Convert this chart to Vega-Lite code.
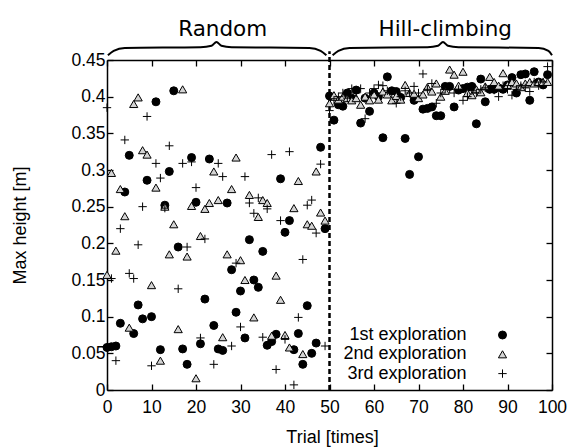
{
  "$schema": "https://vega.github.io/schema/vega-lite/v6.json",
  "width": 445,
  "height": 330,
  "autosize": "none",
  "padding": {"left": 107, "top": 60, "right": 22, "bottom": 57},
  "background": "white",
  "config": {
    "font": "Liberation Sans",
    "view": {"stroke": null},
    "axis": {
      "grid": false,
      "domainColor": "#000",
      "domainWidth": 1.5,
      "tickColor": "#000",
      "tickWidth": 1.3,
      "tickSize": -6,
      "labelColor": "#000",
      "labelFontSize": 17.5,
      "titleColor": "#000",
      "titleFontSize": 18,
      "titleFontWeight": "normal"
    },
    "legend": {
      "labelFontSize": 18,
      "labelColor": "#000"
    }
  },
  "datasets": {
    "pts": [
      {"t":0,"h":0.058,"s":"1st exploration"},{"t":1,"h":0.059,"s":"1st exploration"},{"t":2,"h":0.060,"s":"1st exploration"},{"t":3,"h":0.091,"s":"1st exploration"},{"t":4,"h":0.270,"s":"1st exploration"},{"t":5,"h":0.320,"s":"1st exploration"},{"t":6,"h":0.077,"s":"1st exploration"},{"t":7,"h":0.116,"s":"1st exploration"},{"t":8,"h":0.097,"s":"1st exploration"},{"t":9,"h":0.286,"s":"1st exploration"},
      {"t":10,"h":0.100,"s":"1st exploration"},{"t":11,"h":0.393,"s":"1st exploration"},{"t":12,"h":0.055,"s":"1st exploration"},{"t":13,"h":0.252,"s":"1st exploration"},{"t":14,"h":0.298,"s":"1st exploration"},{"t":15,"h":0.408,"s":"1st exploration"},{"t":16,"h":0.195,"s":"1st exploration"},{"t":17,"h":0.056,"s":"1st exploration"},{"t":18,"h":0.035,"s":"1st exploration"},{"t":19,"h":0.317,"s":"1st exploration"},
      {"t":20,"h":0.256,"s":"1st exploration"},{"t":21,"h":0.063,"s":"1st exploration"},{"t":22,"h":0.124,"s":"1st exploration"},{"t":23,"h":0.315,"s":"1st exploration"},{"t":24,"h":0.088,"s":"1st exploration"},{"t":25,"h":0.056,"s":"1st exploration"},{"t":26,"h":0.054,"s":"1st exploration"},{"t":27,"h":0.255,"s":"1st exploration"},{"t":28,"h":0.164,"s":"1st exploration"},{"t":29,"h":0.106,"s":"1st exploration"},
      {"t":30,"h":0.135,"s":"1st exploration"},{"t":31,"h":0.071,"s":"1st exploration"},{"t":32,"h":0.205,"s":"1st exploration"},{"t":33,"h":0.150,"s":"1st exploration"},{"t":34,"h":0.140,"s":"1st exploration"},{"t":35,"h":0.189,"s":"1st exploration"},{"t":36,"h":0.061,"s":"1st exploration"},{"t":37,"h":0.066,"s":"1st exploration"},{"t":38,"h":0.076,"s":"1st exploration"},{"t":39,"h":0.288,"s":"1st exploration"},
      {"t":40,"h":0.215,"s":"1st exploration"},{"t":41,"h":0.231,"s":"1st exploration"},{"t":42,"h":0.055,"s":"1st exploration"},{"t":43,"h":0.077,"s":"1st exploration"},{"t":44,"h":0.035,"s":"1st exploration"},{"t":45,"h":0.115,"s":"1st exploration"},{"t":46,"h":0.050,"s":"1st exploration"},{"t":47,"h":0.064,"s":"1st exploration"},{"t":48,"h":0.331,"s":"1st exploration"},{"t":49,"h":0.220,"s":"1st exploration"},
      {"t":50,"h":0.401,"s":"1st exploration"},{"t":51,"h":0.368,"s":"1st exploration"},{"t":52,"h":0.389,"s":"1st exploration"},{"t":53,"h":0.387,"s":"1st exploration"},{"t":54,"h":0.405,"s":"1st exploration"},{"t":55,"h":0.398,"s":"1st exploration"},{"t":56,"h":0.409,"s":"1st exploration"},{"t":57,"h":0.364,"s":"1st exploration"},{"t":58,"h":0.398,"s":"1st exploration"},{"t":59,"h":0.380,"s":"1st exploration"},
      {"t":60,"h":0.405,"s":"1st exploration"},{"t":61,"h":0.400,"s":"1st exploration"},{"t":62,"h":0.344,"s":"1st exploration"},{"t":63,"h":0.427,"s":"1st exploration"},{"t":64,"h":0.408,"s":"1st exploration"},{"t":65,"h":0.407,"s":"1st exploration"},{"t":66,"h":0.399,"s":"1st exploration"},{"t":67,"h":0.343,"s":"1st exploration"},{"t":68,"h":0.294,"s":"1st exploration"},{"t":69,"h":0.395,"s":"1st exploration"},
      {"t":70,"h":0.318,"s":"1st exploration"},{"t":71,"h":0.383,"s":"1st exploration"},{"t":72,"h":0.384,"s":"1st exploration"},{"t":73,"h":0.386,"s":"1st exploration"},{"t":74,"h":0.374,"s":"1st exploration"},{"t":75,"h":0.374,"s":"1st exploration"},{"t":76,"h":0.414,"s":"1st exploration"},{"t":77,"h":0.414,"s":"1st exploration"},{"t":78,"h":0.386,"s":"1st exploration"},{"t":79,"h":0.409,"s":"1st exploration"},
      {"t":80,"h":0.411,"s":"1st exploration"},{"t":81,"h":0.413,"s":"1st exploration"},{"t":82,"h":0.414,"s":"1st exploration"},{"t":83,"h":0.363,"s":"1st exploration"},{"t":84,"h":0.424,"s":"1st exploration"},{"t":85,"h":0.393,"s":"1st exploration"},{"t":86,"h":0.410,"s":"1st exploration"},{"t":87,"h":0.410,"s":"1st exploration"},{"t":88,"h":0.412,"s":"1st exploration"},{"t":89,"h":0.410,"s":"1st exploration"},
      {"t":90,"h":0.416,"s":"1st exploration"},{"t":91,"h":0.426,"s":"1st exploration"},{"t":92,"h":0.405,"s":"1st exploration"},{"t":93,"h":0.430,"s":"1st exploration"},{"t":94,"h":0.431,"s":"1st exploration"},{"t":95,"h":0.395,"s":"1st exploration"},{"t":96,"h":0.434,"s":"1st exploration"},{"t":97,"h":0.420,"s":"1st exploration"},{"t":98,"h":0.416,"s":"1st exploration"},{"t":99,"h":0.430,"s":"1st exploration"},

      {"t":0,"h":0.157,"s":"2nd exploration"},{"t":1,"h":0.296,"s":"2nd exploration"},{"t":2,"h":0.190,"s":"2nd exploration"},{"t":3,"h":0.274,"s":"2nd exploration"},{"t":4,"h":0.237,"s":"2nd exploration"},{"t":5,"h":0.085,"s":"2nd exploration"},{"t":6,"h":0.390,"s":"2nd exploration"},{"t":7,"h":0.399,"s":"2nd exploration"},{"t":8,"h":0.327,"s":"2nd exploration"},{"t":9,"h":0.321,"s":"2nd exploration"},
      {"t":10,"h":0.143,"s":"2nd exploration"},{"t":11,"h":0.276,"s":"2nd exploration"},{"t":12,"h":0.040,"s":"2nd exploration"},{"t":13,"h":0.250,"s":"2nd exploration"},{"t":14,"h":0.185,"s":"2nd exploration"},{"t":15,"h":0.226,"s":"2nd exploration"},{"t":16,"h":0.083,"s":"2nd exploration"},{"t":17,"h":0.410,"s":"2nd exploration"},{"t":18,"h":0.182,"s":"2nd exploration"},{"t":19,"h":0.251,"s":"2nd exploration"},
      {"t":20,"h":0.016,"s":"2nd exploration"},{"t":21,"h":0.210,"s":"2nd exploration"},{"t":22,"h":0.247,"s":"2nd exploration"},{"t":23,"h":0.255,"s":"2nd exploration"},{"t":24,"h":0.298,"s":"2nd exploration"},{"t":25,"h":0.259,"s":"2nd exploration"},{"t":26,"h":0.072,"s":"2nd exploration"},{"t":27,"h":0.185,"s":"2nd exploration"},{"t":28,"h":0.274,"s":"2nd exploration"},{"t":29,"h":0.317,"s":"2nd exploration"},
      {"t":30,"h":0.177,"s":"2nd exploration"},{"t":31,"h":0.150,"s":"2nd exploration"},{"t":32,"h":0.266,"s":"2nd exploration"},{"t":33,"h":0.099,"s":"2nd exploration"},{"t":34,"h":0.236,"s":"2nd exploration"},{"t":35,"h":0.259,"s":"2nd exploration"},{"t":36,"h":0.255,"s":"2nd exploration"},{"t":37,"h":0.074,"s":"2nd exploration"},{"t":38,"h":0.156,"s":"2nd exploration"},{"t":39,"h":0.123,"s":"2nd exploration"},
      {"t":40,"h":0.075,"s":"2nd exploration"},{"t":41,"h":0.058,"s":"2nd exploration"},{"t":42,"h":0.248,"s":"2nd exploration"},{"t":43,"h":0.285,"s":"2nd exploration"},{"t":44,"h":0.049,"s":"2nd exploration"},{"t":45,"h":0.226,"s":"2nd exploration"},{"t":46,"h":0.224,"s":"2nd exploration"},{"t":47,"h":0.298,"s":"2nd exploration"},{"t":48,"h":0.242,"s":"2nd exploration"},{"t":49,"h":0.231,"s":"2nd exploration"},
      {"t":50,"h":0.391,"s":"2nd exploration"},{"t":51,"h":0.402,"s":"2nd exploration"},{"t":52,"h":0.396,"s":"2nd exploration"},{"t":53,"h":0.400,"s":"2nd exploration"},{"t":54,"h":0.398,"s":"2nd exploration"},{"t":55,"h":0.395,"s":"2nd exploration"},{"t":56,"h":0.398,"s":"2nd exploration"},{"t":57,"h":0.389,"s":"2nd exploration"},{"t":58,"h":0.400,"s":"2nd exploration"},{"t":59,"h":0.395,"s":"2nd exploration"},
      {"t":60,"h":0.403,"s":"2nd exploration"},{"t":61,"h":0.396,"s":"2nd exploration"},{"t":62,"h":0.407,"s":"2nd exploration"},{"t":63,"h":0.403,"s":"2nd exploration"},{"t":64,"h":0.395,"s":"2nd exploration"},{"t":65,"h":0.401,"s":"2nd exploration"},{"t":66,"h":0.396,"s":"2nd exploration"},{"t":67,"h":0.416,"s":"2nd exploration"},{"t":68,"h":0.405,"s":"2nd exploration"},{"t":69,"h":0.404,"s":"2nd exploration"},
      {"t":70,"h":0.398,"s":"2nd exploration"},{"t":71,"h":0.403,"s":"2nd exploration"},{"t":72,"h":0.413,"s":"2nd exploration"},{"t":73,"h":0.407,"s":"2nd exploration"},{"t":74,"h":0.418,"s":"2nd exploration"},{"t":75,"h":0.400,"s":"2nd exploration"},{"t":76,"h":0.408,"s":"2nd exploration"},{"t":77,"h":0.437,"s":"2nd exploration"},{"t":78,"h":0.430,"s":"2nd exploration"},{"t":79,"h":0.415,"s":"2nd exploration"},
      {"t":80,"h":0.434,"s":"2nd exploration"},{"t":81,"h":0.405,"s":"2nd exploration"},{"t":82,"h":0.402,"s":"2nd exploration"},{"t":83,"h":0.410,"s":"2nd exploration"},{"t":84,"h":0.406,"s":"2nd exploration"},{"t":85,"h":0.414,"s":"2nd exploration"},{"t":86,"h":0.427,"s":"2nd exploration"},{"t":87,"h":0.420,"s":"2nd exploration"},{"t":88,"h":0.415,"s":"2nd exploration"},{"t":89,"h":0.432,"s":"2nd exploration"},
      {"t":90,"h":0.416,"s":"2nd exploration"},{"t":91,"h":0.420,"s":"2nd exploration"},{"t":92,"h":0.418,"s":"2nd exploration"},{"t":93,"h":0.413,"s":"2nd exploration"},{"t":94,"h":0.418,"s":"2nd exploration"},{"t":95,"h":0.420,"s":"2nd exploration"},{"t":96,"h":0.418,"s":"2nd exploration"},{"t":97,"h":0.420,"s":"2nd exploration"},{"t":98,"h":0.420,"s":"2nd exploration"},{"t":99,"h":0.420,"s":"2nd exploration"},

      {"t":0,"h":0.385,"s":"3rd exploration"},{"t":1,"h":0.152,"s":"3rd exploration"},{"t":2,"h":0.040,"s":"3rd exploration"},{"t":3,"h":0.220,"s":"3rd exploration"},{"t":4,"h":0.341,"s":"3rd exploration"},{"t":5,"h":0.159,"s":"3rd exploration"},{"t":6,"h":0.152,"s":"3rd exploration"},{"t":7,"h":0.198,"s":"3rd exploration"},{"t":8,"h":0.250,"s":"3rd exploration"},{"t":9,"h":0.373,"s":"3rd exploration"},
      {"t":10,"h":0.033,"s":"3rd exploration"},{"t":11,"h":0.309,"s":"3rd exploration"},{"t":12,"h":0.289,"s":"3rd exploration"},{"t":13,"h":0.248,"s":"3rd exploration"},{"t":14,"h":0.333,"s":"3rd exploration"},{"t":16,"h":0.138,"s":"3rd exploration"},{"t":17,"h":0.309,"s":"3rd exploration"},{"t":18,"h":0.195,"s":"3rd exploration"},{"t":19,"h":0.311,"s":"3rd exploration"},
      {"t":20,"h":0.276,"s":"3rd exploration"},{"t":21,"h":0.071,"s":"3rd exploration"},{"t":22,"h":0.206,"s":"3rd exploration"},{"t":24,"h":0.035,"s":"3rd exploration"},{"t":25,"h":0.309,"s":"3rd exploration"},{"t":26,"h":0.291,"s":"3rd exploration"},{"t":28,"h":0.060,"s":"3rd exploration"},{"t":29,"h":0.173,"s":"3rd exploration"},
      {"t":30,"h":0.086,"s":"3rd exploration"},{"t":31,"h":0.291,"s":"3rd exploration"},{"t":32,"h":0.255,"s":"3rd exploration"},{"t":33,"h":0.241,"s":"3rd exploration"},{"t":34,"h":0.262,"s":"3rd exploration"},{"t":35,"h":0.072,"s":"3rd exploration"},{"t":36,"h":0.247,"s":"3rd exploration"},{"t":37,"h":0.321,"s":"3rd exploration"},{"t":38,"h":0.028,"s":"3rd exploration"},{"t":39,"h":0.231,"s":"3rd exploration"},
      {"t":40,"h":0.069,"s":"3rd exploration"},{"t":41,"h":0.325,"s":"3rd exploration"},{"t":42,"h":0.007,"s":"3rd exploration"},{"t":43,"h":0.099,"s":"3rd exploration"},{"t":44,"h":0.178,"s":"3rd exploration"},{"t":45,"h":0.252,"s":"3rd exploration"},{"t":46,"h":0.259,"s":"3rd exploration"},{"t":47,"h":0.214,"s":"3rd exploration"},{"t":48,"h":0.308,"s":"3rd exploration"},{"t":49,"h":0.060,"s":"3rd exploration"},
      {"t":50,"h":0.381,"s":"3rd exploration"},{"t":51,"h":0.395,"s":"3rd exploration"},{"t":52,"h":0.400,"s":"3rd exploration"},{"t":53,"h":0.405,"s":"3rd exploration"},{"t":54,"h":0.398,"s":"3rd exploration"},{"t":55,"h":0.411,"s":"3rd exploration"},{"t":56,"h":0.405,"s":"3rd exploration"},{"t":57,"h":0.411,"s":"3rd exploration"},{"t":58,"h":0.370,"s":"3rd exploration"},{"t":59,"h":0.405,"s":"3rd exploration"},
      {"t":60,"h":0.411,"s":"3rd exploration"},{"t":61,"h":0.416,"s":"3rd exploration"},{"t":62,"h":0.415,"s":"3rd exploration"},{"t":63,"h":0.408,"s":"3rd exploration"},{"t":64,"h":0.405,"s":"3rd exploration"},{"t":65,"h":0.391,"s":"3rd exploration"},{"t":66,"h":0.400,"s":"3rd exploration"},{"t":67,"h":0.408,"s":"3rd exploration"},{"t":68,"h":0.405,"s":"3rd exploration"},{"t":69,"h":0.414,"s":"3rd exploration"},
      {"t":70,"h":0.405,"s":"3rd exploration"},{"t":71,"h":0.431,"s":"3rd exploration"},{"t":72,"h":0.410,"s":"3rd exploration"},{"t":73,"h":0.418,"s":"3rd exploration"},{"t":74,"h":0.391,"s":"3rd exploration"},{"t":75,"h":0.405,"s":"3rd exploration"},{"t":76,"h":0.410,"s":"3rd exploration"},{"t":77,"h":0.410,"s":"3rd exploration"},{"t":78,"h":0.405,"s":"3rd exploration"},{"t":79,"h":0.410,"s":"3rd exploration"},
      {"t":80,"h":0.395,"s":"3rd exploration"},{"t":81,"h":0.400,"s":"3rd exploration"},{"t":82,"h":0.408,"s":"3rd exploration"},{"t":83,"h":0.405,"s":"3rd exploration"},{"t":84,"h":0.410,"s":"3rd exploration"},{"t":85,"h":0.412,"s":"3rd exploration"},{"t":86,"h":0.410,"s":"3rd exploration"},{"t":87,"h":0.409,"s":"3rd exploration"},{"t":88,"h":0.400,"s":"3rd exploration"},{"t":89,"h":0.415,"s":"3rd exploration"},
      {"t":90,"h":0.410,"s":"3rd exploration"},{"t":91,"h":0.402,"s":"3rd exploration"},{"t":92,"h":0.410,"s":"3rd exploration"},{"t":93,"h":0.415,"s":"3rd exploration"},{"t":94,"h":0.412,"s":"3rd exploration"},{"t":95,"h":0.407,"s":"3rd exploration"},{"t":96,"h":0.420,"s":"3rd exploration"},{"t":97,"h":0.415,"s":"3rd exploration"},{"t":98,"h":0.420,"s":"3rd exploration"},{"t":99,"h":0.441,"s":"3rd exploration"}
    ],
    "braces": [
      {"g":"r","t":0.2,"h":0.4565},{"g":"r","t":1.5,"h":0.4625},{"g":"r","t":4,"h":0.4665},{"g":"r","t":21,"h":0.4675},{"g":"r","t":23.5,"h":0.4695},{"g":"r","t":24.6,"h":0.4745},{"g":"r","t":25.7,"h":0.4695},{"g":"r","t":28,"h":0.4675},{"g":"r","t":45.5,"h":0.4665},{"g":"r","t":48,"h":0.4625},{"g":"r","t":49.3,"h":0.4565},
      {"g":"h","t":50.7,"h":0.4565},{"g":"h","t":52,"h":0.4625},{"g":"h","t":54.5,"h":0.4665},{"g":"h","t":72,"h":0.4675},{"g":"h","t":74.4,"h":0.4695},{"g":"h","t":75.5,"h":0.4745},{"g":"h","t":76.6,"h":0.4695},{"g":"h","t":79,"h":0.4675},{"g":"h","t":97,"h":0.4665},{"g":"h","t":99.2,"h":0.4625},{"g":"h","t":100,"h":0.4565}
    ]
  },
  "layer": [
    {
      "data": {"values": [{}]},
      "mark": {"type": "rule", "stroke": "#000", "strokeWidth": 2.5, "strokeDash": [5, 3]},
      "encoding": {
        "x": {"datum": 50, "type": "quantitative", "scale": {"domain": [0, 100], "nice": false},
              "axis": {"orient": "top", "labels": false, "title": null, "values": [0,10,20,30,40,50,60,70,80,90,100]}},
        "y": {"datum": 0, "type": "quantitative", "scale": {"domain": [0, 0.45], "nice": false},
              "axis": {"orient": "right", "labels": false, "title": null, "values": [0,0.05,0.1,0.15,0.2,0.25,0.3,0.35,0.4,0.45]}},
        "y2": {"datum": 0.462}
      }
    },
    {
      "data": {"name": "pts"},
      "mark": {"type": "point", "filled": true, "stroke": "#000", "strokeWidth": 1, "opacity": 1},
      "encoding": {
        "x": {"field": "t", "type": "quantitative", "scale": {"domain": [0, 100], "nice": false},
              "axis": {"orient": "bottom", "title": "Trial [times]", "values": [0,10,20,30,40,50,60,70,80,90,100], "labelPadding": 14, "labelFlush": false, "labelDx": 3, "labelOverlap": false, "titleX": 225, "titleY": 47, "titleBaseline": "middle"}},
        "y": {"field": "h", "type": "quantitative", "scale": {"domain": [0, 0.45], "nice": false},
              "axis": {"orient": "left", "title": "Max height [m]", "format": "~g", "values": [0,0.05,0.1,0.15,0.2,0.25,0.3,0.35,0.4,0.45], "labelPadding": 8, "labelFlush": false, "labelOverlap": false, "titleX": -87, "titleY": 165, "titleAngle": -90, "titleBaseline": "middle", "titleAlign": "center"}},
        "shape": {"field": "s", "type": "nominal", "scale": {"range": ["circle", "triangle-up", "M-1,0L1,0M0,-1L0,1"]},
                  "legend": {"title": null, "orient": "none", "legendX": 386.5, "legendY": 266, "labelAlign": "right", "labelOffset": -45, "rowPadding": 1.3, "symbolStrokeColor": "#000", "symbolStrokeWidth": 1, "labelFontSize": 18}},
        "fill": {"field": "s", "type": "nominal", "scale": {"range": ["#000", "#d4d4d4", "transparent"]}},
        "size": {"field": "s", "type": "nominal", "scale": {"range": [64, 70, 100]}}
      }
    },
    {
      "data": {"name": "braces"},
      "mark": {"type": "line", "interpolate": "monotone", "stroke": "#000", "strokeWidth": 2},
      "encoding": {
        "x": {"field": "t", "type": "quantitative", "axis": null},
        "y": {"field": "h", "type": "quantitative", "axis": null},
        "detail": {"field": "g"}
      }
    },
    {
      "data": {"values": [{}]},
      "mark": {"type": "text", "text": "Random", "font": "DejaVu Sans", "fontSize": 21.5, "baseline": "alphabetic", "align": "center", "color": "#000"},
      "encoding": {
        "x": {"datum": 26, "type": "quantitative", "axis": null},
        "y": {"datum": 0.4827, "type": "quantitative", "axis": null}
      }
    },
    {
      "data": {"values": [{}]},
      "mark": {"type": "text", "text": "Hill-climbing", "font": "DejaVu Sans", "fontSize": 21.5, "baseline": "alphabetic", "align": "center", "color": "#000"},
      "encoding": {
        "x": {"datum": 76, "type": "quantitative", "axis": null},
        "y": {"datum": 0.4827, "type": "quantitative", "axis": null}
      }
    }
  ],
  "resolve": {"axis": {"x": "independent", "y": "independent"}}
}
